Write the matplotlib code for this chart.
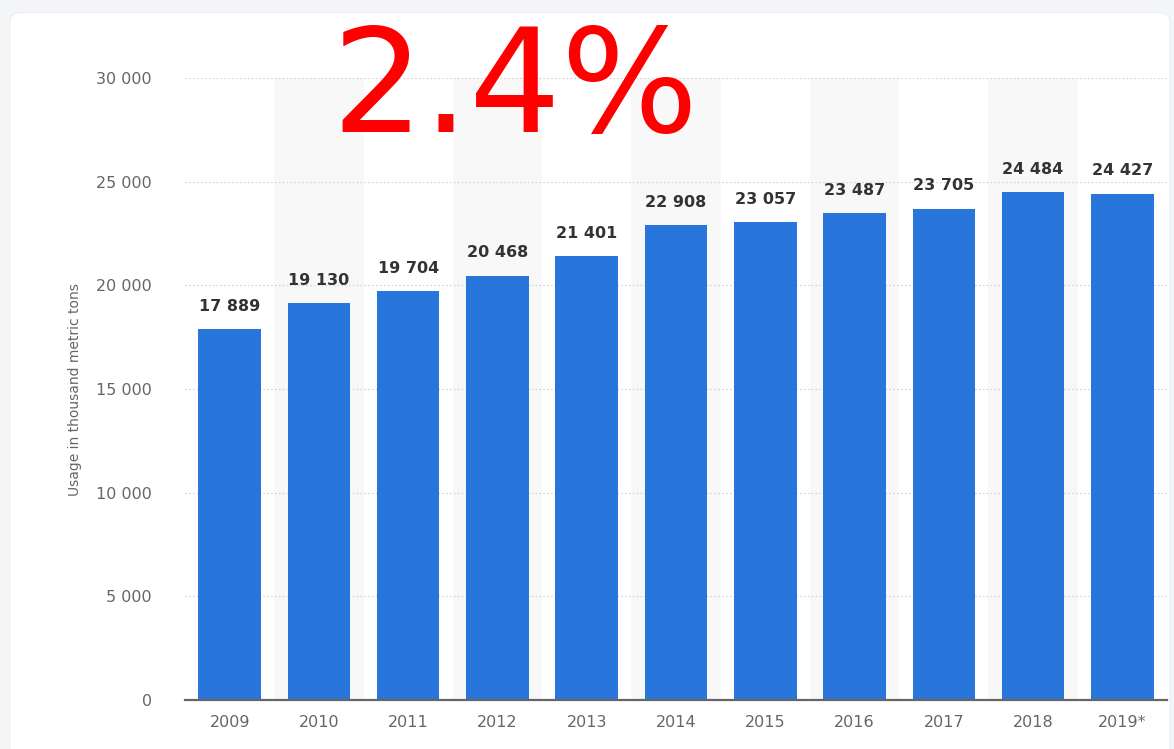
import matplotlib
matplotlib.use('Agg')
import matplotlib.pyplot as plt
from matplotlib.patches import FancyBboxPatch
from matplotlib.ticker import FuncFormatter

years = ['2009', '2010', '2011', '2012', '2013', '2014', '2015', '2016', '2017', '2018', '2019*']
usage = [17889, 19130, 19704, 20468, 21401, 22908, 23057, 23487, 23705, 24484, 24427]
y_ticks = [0, 5000, 10000, 15000, 20000, 25000, 30000]

W, H = 1174, 749
fig = plt.figure(figsize=(W / 100, H / 100), dpi=100)
fig.patch.set_facecolor('#f4f5f7')

# white card behind the chart
card = FancyBboxPatch((10 / W, -0.05), (1170 - 10) / W, (H + 40 - 15) / H,
                      boxstyle='round,pad=0,rounding_size=0.011',
                      transform=fig.transFigure, facecolor='white',
                      edgecolor='#eceef1', linewidth=0.8, zorder=-10)
fig.patches.append(card)

ax = fig.add_axes([185 / W, 1 - 700 / H, (1167 - 185) / W, (700 - 78) / H])
ax.set_facecolor('none')
ax.set_zorder(1)

x = list(range(len(years)))

# light bands behind every other year
for i in x:
    if i % 2 == 1:
        ax.axvspan(i - 0.5, i + 0.5, color='#f8f8f8', zorder=0, lw=0)

ax.bar(x, usage, width=0.7, color='#2876dc', zorder=3)

for xi, v in zip(x, usage):
    ax.annotate(f'{v:,}'.replace(',', ' '), (xi, v), xytext=(0, 11),
                textcoords='offset points', ha='center', va='bottom',
                fontsize=11.5, fontweight='bold', color='#333333', zorder=4)

ax.set_xlim(-0.5, len(years) - 0.5)
ax.set_ylim(0, 30000)
ax.set_yticks(y_ticks)
ax.yaxis.set_major_formatter(FuncFormatter(lambda v, p: f'{int(v):,}'.replace(',', ' ')))
ax.set_xticks(x)
ax.set_xticklabels(years)

ax.grid(axis='y', color='#d2d2d2', linestyle=(0, (1.5, 2)), linewidth=0.8, zorder=1)
ax.set_axisbelow(True)
for s in ['top', 'right', 'left']:
    ax.spines[s].set_visible(False)
ax.spines['bottom'].set_color('#666666')
ax.spines['bottom'].set_linewidth(1.6)
ax.spines['bottom'].set_zorder(5)

ax.tick_params(axis='both', length=0, labelsize=11.5, labelcolor='#666666')
ax.tick_params(axis='y', pad=24)
ax.tick_params(axis='x', pad=11)

fig.text(75 / W, 1 - 390 / H, 'Usage in thousand metric tons', rotation=90,
         ha='center', va='center', fontsize=10, color='#666666')

# handwritten growth note
fig.text(515 / W, 1 - 132 / H, '2.4%', ha='center', va='baseline',
         fontsize=104, color='#ff0000', zorder=10)

fig.savefig('out.png', dpi=100, facecolor=fig.get_facecolor())
